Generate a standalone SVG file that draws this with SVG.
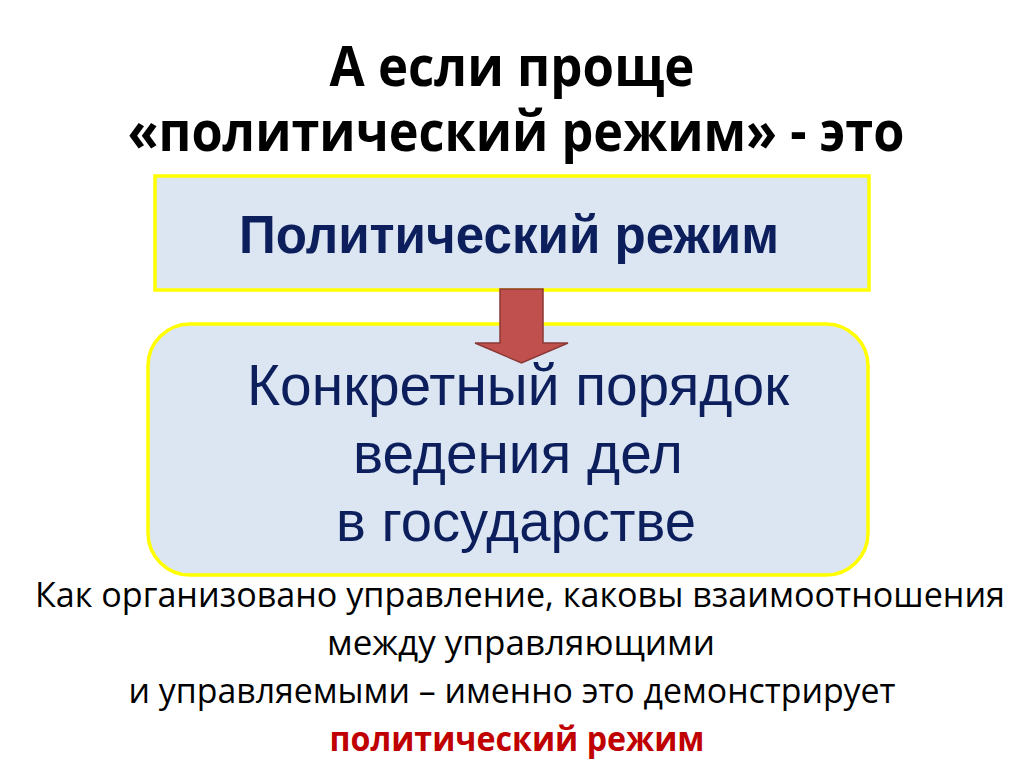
<svg xmlns="http://www.w3.org/2000/svg" width="1024" height="767" viewBox="0 0 1024 767">
<style>
.title{font-family:"Open Sans","Liberation Sans",sans-serif;font-weight:bold;font-size:55px;fill:#000;text-anchor:middle}
.box{fill:#DCE6F2;stroke:#FFFF00;stroke-width:3.5}
.head{font-family:"Liberation Sans",Arial,sans-serif;font-weight:bold;font-size:53px;fill:#0C1F5C;text-anchor:middle}
.body{font-family:"Liberation Sans",Arial,sans-serif;font-size:58px;fill:#0C1F5C;text-anchor:middle}
.note{font-family:"Open Sans","Liberation Sans",sans-serif;font-size:34px;fill:#000;text-anchor:middle}
.red{font-weight:bold;fill:#C00000}
.arrow{fill:#C0504D;stroke:#8C3836;stroke-width:1.5;stroke-linejoin:miter}
</style>
<rect width="1024" height="767" fill="#FFFFFF"/>
<g id="title">
<text class="title" x="512" y="86" textLength="365" lengthAdjust="spacingAndGlyphs">А если проще</text>
<text class="title" x="516" y="151" textLength="777" lengthAdjust="spacingAndGlyphs">«политический режим» - это</text>
</g>
<g id="node-regime">
<rect class="box" x="155" y="176" width="714" height="114"/>
<text class="head" x="509" y="253" textLength="540" lengthAdjust="spacingAndGlyphs">Политический режим</text>
</g>
<g id="node-order">
<rect class="box" x="148" y="324" width="720" height="251" rx="42" ry="42"/>
<text class="body" x="518" y="405" textLength="542" lengthAdjust="spacingAndGlyphs">Конкретный порядок</text>
<text class="body" x="518" y="473" textLength="330" lengthAdjust="spacingAndGlyphs">ведения дел</text>
<text class="body" x="516" y="541" textLength="360" lengthAdjust="spacingAndGlyphs">в государстве</text>
</g>
<g id="connectors">
<polygon class="arrow" points="500,289 543,289 543,343 568,343 521.5,363 475,343 500,343"/>
</g>
<g id="note">
<text class="note" x="520" y="607" textLength="970" lengthAdjust="spacingAndGlyphs">Как организовано управление, каковы взаимоотношения</text>
<text class="note" x="521" y="655" textLength="388" lengthAdjust="spacingAndGlyphs">между управляющими</text>
<text class="note" x="512" y="703" textLength="767" lengthAdjust="spacingAndGlyphs">и управляемыми – именно это демонстрирует</text>
<text class="note red" x="517" y="751" textLength="375" lengthAdjust="spacingAndGlyphs">политический режим</text>
</g>
</svg>
